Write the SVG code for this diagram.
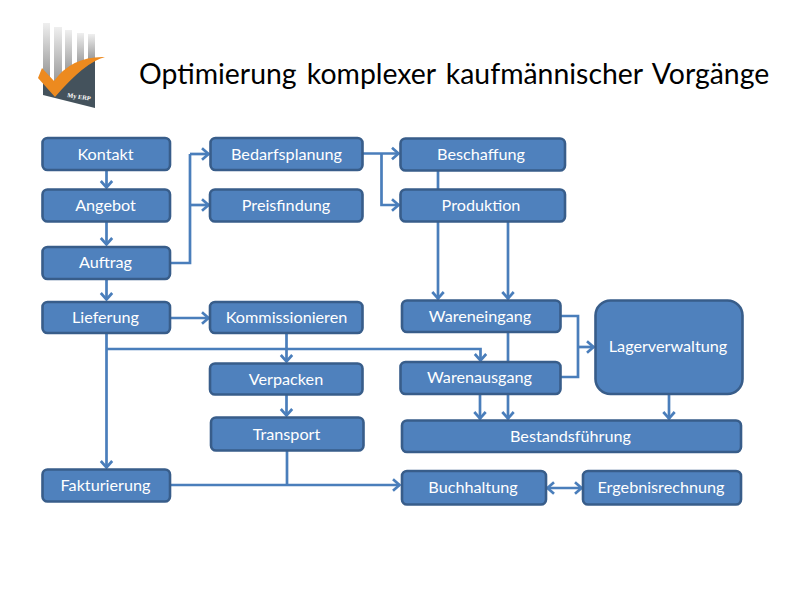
<svg xmlns="http://www.w3.org/2000/svg" width="800" height="600" viewBox="0 0 800 600">
<style>
.n{fill:#4f81bd;stroke:#385d8a;stroke-width:2.6}
.t{font-family:Lato,"Liberation Sans",sans-serif;font-size:16.2px;fill:#fff;text-anchor:middle}
.c{fill:none;stroke:#4a7ebb;stroke-width:2.7}
.a{marker-end:url(#h)}
.title{font-family:Lato,"Liberation Sans",sans-serif;font-size:28.4px;fill:#000;word-spacing:3px}
</style>
<defs>
<marker id="h" markerUnits="userSpaceOnUse" markerWidth="14" markerHeight="14" refX="10.5" refY="6" orient="auto-start-reverse" overflow="visible"><path d="M3.500 0.300L10 6L3.500 11.700" fill="none" stroke="#4a7ebb" stroke-width="2.7"/></marker>
<linearGradient id="g" x1="0" y1="0" x2="0" y2="1"><stop offset="0" stop-color="#efefef"/><stop offset="1" stop-color="#8a8a8a"/></linearGradient>
</defs>
<rect width="800" height="600" fill="#fff"/>
<g id="logo">
<rect x="43" y="23" width="7" height="62" fill="url(#g)"/>
<rect x="54" y="27" width="8" height="65" fill="url(#g)"/>
<rect x="65" y="30" width="7" height="50" fill="url(#g)"/>
<rect x="77" y="33" width="7" height="38" fill="url(#g)"/>
<rect x="88" y="34" width="7" height="30" fill="url(#g)"/>
<path d="M43 80L55 92L72 72Q84 62 95 59L95 108L43 95Z" fill="#44525c"/>
<path d="M42 68L54 81Q72 56 105 57Q85 62 55 97L38 78Z" fill="#ed8a1f"/>
<text x="67" y="97" transform="rotate(9 67 97)" font-family="Liberation Serif,serif" font-size="6.400" font-weight="bold" fill="#fff">My ERP</text>
</g>
<text class="title" x="139" y="84">Optimierung komplexer kaufmännischer Vorgänge</text>
<g id="connectors">
<path class="c a" d="M106.500 170V188"/>
<path class="c a" d="M106.500 222V245"/>
<path class="c a" d="M106.500 279V300"/>
<path class="c" d="M170 263H190V154"/>
<path class="c a" d="M190 154H209"/>
<path class="c a" d="M190 205H209"/>
<path class="c a" d="M363 153.500H399"/>
<path class="c a" d="M381.500 153.500V205H399"/>
<path class="c" d="M438 171V189"/>
<path class="c a" d="M438 222V299"/>
<path class="c a" d="M508 222V299"/>
<path class="c a" d="M170 318H209"/>
<path class="c a" d="M106.500 333V468"/>
<path class="c a" d="M106.500 349H480.500V361"/>
<path class="c a" d="M286.500 333V362"/>
<path class="c a" d="M286.500 395V416"/>
<path class="c" d="M508 332V362"/>
<path class="c a" d="M480 394V419"/>
<path class="c a" d="M508 394V419"/>
<path class="c" d="M561 316H578V377H561"/>
<path class="c a" d="M578 347H594"/>
<path class="c a" d="M669 394V419"/>
<path class="c a" d="M170 485H400"/>
<path class="c" d="M287 451V485"/>
<path class="c a" style="marker-start:url(#h)" d="M547 488H582"/>
</g>
<g id="kontakt"><rect class="n" x="42.500" y="138" width="127.500" height="32" rx="5"/><text class="t" x="105.500" y="159.500">Kontakt</text></g>
<g id="angebot"><rect class="n" x="42.500" y="189.500" width="127.500" height="32" rx="5"/><text class="t" x="105.500" y="210.500">Angebot</text></g>
<g id="auftrag"><rect class="n" x="42.500" y="247" width="127.500" height="32" rx="5"/><text class="t" x="105.500" y="268">Auftrag</text></g>
<g id="lieferung"><rect class="n" x="42.500" y="302" width="127.500" height="31" rx="5"/><text class="t" x="105.500" y="323">Lieferung</text></g>
<g id="fakturierung"><rect class="n" x="42.500" y="469.500" width="127.500" height="32" rx="5"/><text class="t" x="105.500" y="490.500">Fakturierung</text></g>
<g id="bedarfsplanung"><rect class="n" x="210.500" y="138" width="152" height="32" rx="5"/><text class="t" x="286.500" y="159.500">Bedarfsplanung</text></g>
<g id="preisfindung"><rect class="n" x="210" y="189.500" width="152.500" height="32" rx="5"/><text class="t" x="286" y="210.500">Preisfindung</text></g>
<g id="kommissionieren"><rect class="n" x="210" y="302" width="152.500" height="31" rx="5"/><text class="t" x="286.500" y="323">Kommissionieren</text></g>
<g id="verpacken"><rect class="n" x="210" y="363.500" width="152.500" height="31" rx="5"/><text class="t" x="286" y="384.500">Verpacken</text></g>
<g id="transport"><rect class="n" x="211" y="417.500" width="152.500" height="33" rx="5"/><text class="t" x="286.500" y="440">Transport</text></g>
<g id="beschaffung"><rect class="n" x="400.500" y="138.500" width="164.500" height="32" rx="5"/><text class="t" x="481" y="159.500">Beschaffung</text></g>
<g id="produktion"><rect class="n" x="400.500" y="189.500" width="164.500" height="32" rx="5"/><text class="t" x="481" y="210.500">Produktion</text></g>
<g id="wareneingang"><rect class="n" x="402" y="300.500" width="158.500" height="31.500" rx="5"/><text class="t" x="480" y="322">Wareneingang</text></g>
<g id="warenausgang"><rect class="n" x="400.500" y="362" width="160" height="32" rx="5"/><text class="t" x="479.500" y="383">Warenausgang</text></g>
<g id="lagerverwaltung"><rect class="n" x="595.500" y="300.500" width="147" height="93.500" rx="15"/><text class="t" x="668" y="352">Lagerverwaltung</text></g>
<g id="bestandsfuehrung"><rect class="n" x="402" y="420.500" width="339" height="31.500" rx="5"/><text class="t" x="570.500" y="441.500">Bestandsführung</text></g>
<g id="buchhaltung"><rect class="n" x="402" y="471" width="144" height="33.500" rx="5"/><text class="t" x="473" y="493">Buchhaltung</text></g>
<g id="ergebnisrechnung"><rect class="n" x="583" y="471" width="158" height="33.500" rx="5"/><text class="t" x="661" y="493">Ergebnisrechnung</text></g>
</svg>
